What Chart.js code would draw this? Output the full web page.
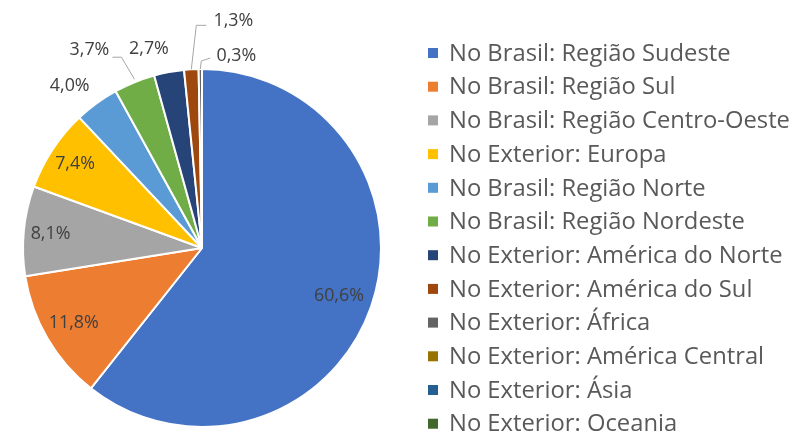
<!DOCTYPE html>
<html>
<head>
<meta charset="utf-8">
<script src="https://cdn.jsdelivr.net/npm/chart.js@4/dist/chart.umd.min.js"></script>
<style>
  html, body { margin: 0; padding: 0; background: #ffffff; }
  #wrap { width: 798px; height: 436px; }
</style>
</head>
<body>
<div id="wrap"><canvas id="c" width="798" height="436"></canvas></div>
<script>
// ---- data ----
const categories = [
  "No Brasil: Região Sudeste",
  "No Brasil: Região Sul",
  "No Brasil: Região Centro-Oeste",
  "No Exterior: Europa",
  "No Brasil: Região Norte",
  "No Brasil: Região Nordeste",
  "No Exterior: América do Norte",
  "No Exterior: América do Sul",
  "No Exterior: África",
  "No Exterior: América Central",
  "No Exterior: Ásia",
  "No Exterior: Oceania"
];
const shares = [60.6, 11.8, 8.1, 7.4, 4.0, 3.7, 2.7, 1.3, 0.3, 0, 0, 0];

// ---- styles ----
const sliceColors = [
  "#4472C4", "#ED7D31", "#A5A5A5", "#FFC000", "#5B9BD5", "#70AD47",
  "#264478", "#9E480E", "#636363", "#997300", "#255E91", "#43682B"
];
const FONT_FAMILY = '"Open Sans", "Noto Sans", sans-serif';
// label placement: inside (radial fraction) or outside (offset from slice edge point, optional leader)
const labelPlacement = [
  { inside: 0.81 },
  { inside: 0.83 },
  { inside: 0.85 },
  { inside: 0.85 },
  { dx: -27, dy: -17 },
  { dx: -45, dy: -32, leader: [[0, -3], [-13, -25], [-22, -25]] },
  { dx: -20, dy: -23 },
  { dx: 42, dy: -48, leader: [[0, 0], [5, -44], [15, -44]] },
  { dx: 36, dy: -13, leader: [[0, 0], [1, -8], [10, -11]] },
  null, null, null
];

function fitSize(ctx, text, targetWidth, weight) {
  ctx.font = (weight || '') + ' 20px ' + FONT_FAMILY;
  const w = ctx.measureText(text).width;
  return 20 * targetWidth / w;
}

const labelPlugin = {
  id: 'pieLabels',
  afterDatasetsDraw(chart) {
    const ctx = chart.ctx;
    const meta = chart.getDatasetMeta(0);
    ctx.save();
    const size = fitSize(ctx, '60,6%', 50);
    ctx.font = size.toFixed(2) + 'px ' + FONT_FAMILY;
    ctx.fillStyle = '#404040';
    ctx.textAlign = 'center';
    ctx.textBaseline = 'middle';
    meta.data.forEach((arc, i) => {
      const p = labelPlacement[i];
      if (!p || !shares[i]) return;
      const { x, y, startAngle, endAngle, outerRadius } = arc.getProps(['x', 'y', 'startAngle', 'endAngle', 'outerRadius'], true);
      const mid = (startAngle + endAngle) / 2;
      const txt = shares[i].toFixed(1).replace('.', ',') + '%';
      if (p.inside) {
        ctx.fillText(txt, x + Math.cos(mid) * outerRadius * p.inside, y + Math.sin(mid) * outerRadius * p.inside);
      } else {
        const ex = x + Math.cos(mid) * outerRadius;
        const ey = y + Math.sin(mid) * outerRadius;
        if (p.leader) {
          ctx.strokeStyle = '#A6A6A6';
          ctx.lineWidth = 1;
          ctx.beginPath();
          p.leader.forEach((pt, k) => {
            if (k === 0) ctx.moveTo(ex + pt[0], ey + pt[1]);
            else ctx.lineTo(ex + pt[0], ey + pt[1]);
          });
          ctx.stroke();
        }
        ctx.fillText(txt, ex + p.dx, ey + p.dy);
      }
    });
    ctx.restore();
  }
};

const legendPlugin = {
  id: 'sideLegend',
  afterDraw(chart) {
    const ctx = chart.ctx;
    const ds = chart.data.datasets[0];
    ctx.save();
    const size = fitSize(ctx, 'No Brasil: Região Centro-Oeste', 341);
    ctx.font = size.toFixed(2) + 'px ' + FONT_FAMILY;
    ctx.textAlign = 'left';
    ctx.textBaseline = 'middle';
    chart.data.labels.forEach((lab, i) => {
      const yy = 53 + i * 33.7;
      ctx.fillStyle = ds.backgroundColor[i];
      ctx.fillRect(428, yy - 5, 10, 10);
      ctx.fillStyle = '#595959';
      ctx.fillText(lab, 449, yy + 1);
    });
    ctx.restore();
  }
};

new Chart(document.getElementById('c'), {
  type: 'pie',
  data: {
    labels: categories,
    datasets: [{
      data: shares,
      backgroundColor: sliceColors,
      borderColor: '#ffffff',
      borderWidth: 2
    }]
  },
  options: {
    responsive: false,
    devicePixelRatio: 1,
    animation: false,
    layout: { padding: { left: 22, top: 68, right: 416, bottom: 8 } },
    plugins: {
      legend: { display: false },
      tooltip: { enabled: false }
    }
  },
  plugins: [labelPlugin, legendPlugin]
});
</script>
</body>
</html>
